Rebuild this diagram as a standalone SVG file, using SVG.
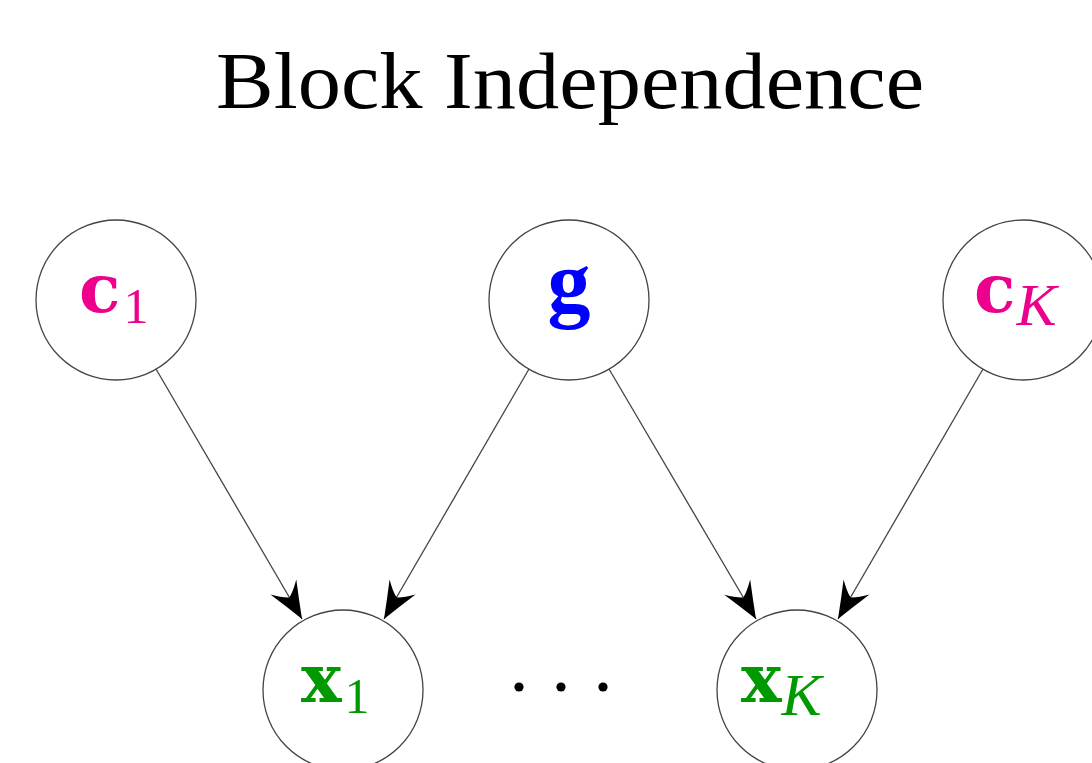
<svg xmlns="http://www.w3.org/2000/svg" width="1092" height="763" viewBox="0 0 1092 763">
<style>
.node circle{fill:#fff;stroke:#444;stroke-width:1.3}
.lbl{font-family:"Liberation Serif","DejaVu Serif",serif}
.b{font-family:"DejaVu Serif",serif;font-weight:bold}
.bg{font-family:"Liberation Serif",serif;font-weight:bold}
.it{font-style:italic}
.mag{fill:#EC008C}
.grn{fill:#009900}
.blu{fill:#0000FF}
.edge{stroke:#444;stroke-width:1.3;fill:none;marker-end:url(#ah)}
</style>
<defs>
<marker id="ah" markerUnits="userSpaceOnUse" orient="auto" refX="0" refY="0" markerWidth="40" markerHeight="40" overflow="visible">
<path d="M0,0 Q-18,-7 -37,-15 Q-28,-6 -25,0 Q-28,6 -37,15 Q-18,7 0,0 Z" fill="#000"/>
</marker>
</defs>
<text x="570" y="108" text-anchor="middle" class="lbl" font-size="80" textLength="708" lengthAdjust="spacingAndGlyphs">Block Independence</text>
<g id="connectors">
<line class="edge" x1="156" y1="369" x2="302" y2="619"/>
<line class="edge" x1="529" y1="369" x2="384" y2="619"/>
<line class="edge" x1="609" y1="369" x2="756" y2="619"/>
<line class="edge" x1="983" y1="369" x2="838" y2="619"/>
</g>
<g id="c1" class="node">
<circle cx="116" cy="300" r="80"/>
<text class="lbl" x="79" y="312"><tspan class="b mag" font-size="68">c</tspan><tspan class="mag" font-size="50" dy="11" dx="3">1</tspan></text>
</g>
<g id="g" class="node">
<circle cx="569" cy="300" r="80"/>
<text class="bg blu" x="569" y="311" text-anchor="middle" font-size="86">g</text>
</g>
<g id="cK" class="node">
<circle cx="1023" cy="300" r="80"/>
<text class="lbl" x="974" y="312"><tspan class="b mag" font-size="68">c</tspan><tspan class="it mag" font-size="60" dy="13" dx="1">K</tspan></text>
</g>
<g id="x1" class="node">
<circle cx="343" cy="690" r="80"/>
<text class="lbl" x="301" y="702"><tspan class="b grn" font-size="68">x</tspan><tspan class="grn" font-size="50" dy="11" dx="3">1</tspan></text>
</g>
<g id="xK" class="node">
<circle cx="797" cy="690" r="80"/>
<text class="lbl" x="741" y="702"><tspan class="b grn" font-size="68">x</tspan><tspan class="it grn" font-size="60" dy="13" dx="0">K</tspan></text>
</g>
<g id="dots">
<circle cx="519" cy="687" r="4.6"/>
<circle cx="561" cy="687" r="4.6"/>
<circle cx="603" cy="687" r="4.6"/>
</g>
</svg>
